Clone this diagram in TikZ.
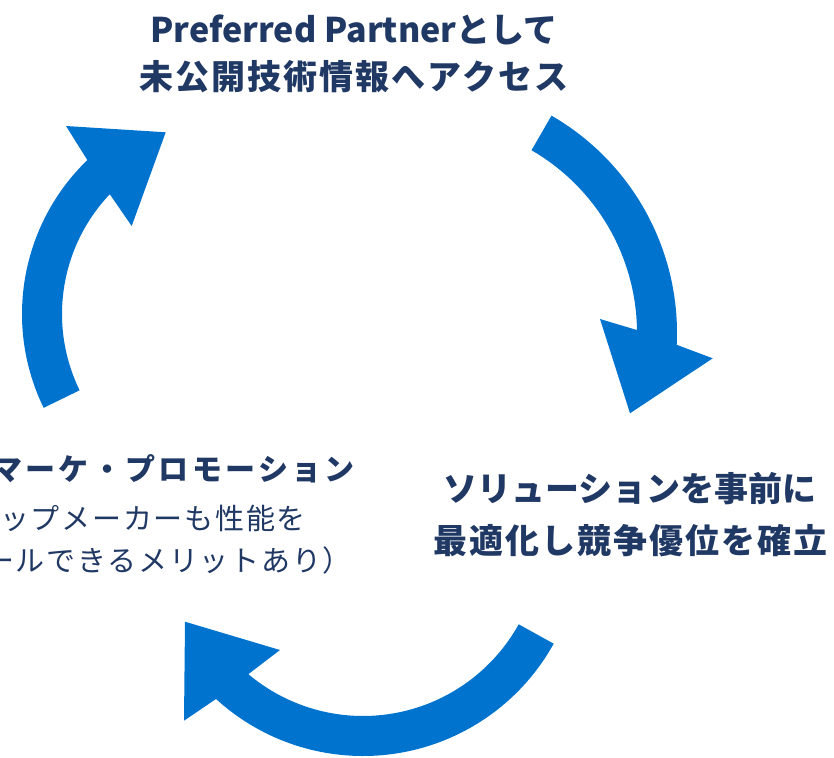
\documentclass[tikz,border=0pt]{standalone}
\usepackage{fontspec}
\usetikzlibrary{calc}
\newfontfamily\jp{Noto Sans CJK JP}
\newfontfamily\jpwide{Noto Sans CJK JP}[LetterSpace=6]
\newfontfamily\jpleft{Noto Sans CJK JP}[LetterSpace=11]
\definecolor{arrowblue}{RGB}{0,115,207}
\definecolor{navy}{RGB}{32,56,100}
\tikzset{
  cyclearrow/.style={fill=arrowblue, draw=none},
  basetext/.style={text=navy, inner sep=0pt},
  titletext/.style={basetext, font=\jpwide\bfseries\fontsize{34}{40}\selectfont},
  titlenarrow/.style={basetext, font=\jp\bfseries\fontsize{34}{40}\selectfont},
  subtext/.style={basetext, font=\jpwide\fontsize{29}{34}\selectfont},
  lefttitle/.style={basetext, font=\jpleft\bfseries\fontsize{30}{35}\selectfont}
}
\begin{document}
\begin{tikzpicture}[x=1pt,y=-1pt]
\useasboundingbox (0,0) rectangle (834,757);
\coordinate (cL) at (236,314);
\coordinate (cR) at (426,333);
\coordinate (cB) at (363,538);
% left arrow (upwards)
\fill[cyclearrow] ($(cL)+(154:214)$) arc[start angle=154,end angle=226,radius=214]
  -- (66,126) -- (165.7,132.3) -- (131.7,226)
  -- ($(cL)+(223.5:174)$) arc[start angle=223.5,end angle=154,radius=174] -- cycle;
% right arrow (downwards)
\fill[cyclearrow] ($(cR)+(-60:251)$) arc[start angle=-60,end angle=2.7,radius=251]
  -- (712.7,358.3) -- (630,413.3) -- (600,319)
  -- ($(cR)+(-0.8:211)$) arc[start angle=-0.8,end angle=-60,radius=211] -- cycle;
% bottom arrow (leftwards)
\fill[cyclearrow] ($(cB)+(29:218)$) arc[start angle=29,end angle=132.4,radius=218]
  -- (184,720.7) -- (185,621.7) -- (280,650)
  -- ($(cB)+(130.1:178)$) arc[start angle=130.1,end angle=29,radius=178] -- cycle;
% texts
\node[titlenarrow, anchor=base] (t1) at (354,43) {Preferred Partnerとして};
\node[titletext, anchor=base] (t2) at (354,90) {未公開技術情報へアクセス};
\node[titlenarrow, anchor=base west] (r1) at (443,501) {ソリューションを事前に};
\node[titletext, anchor=base west] (r2) at (433,553) {最適化し競争優位を確立};
\node[lefttitle, anchor=base east] (l1) at (355,480) {マーケ・プロモーション};
\node[subtext, anchor=base east] (l2) at (306,529) {ップメーカーも性能を};
\node[subtext, anchor=base east] (l3) at (352,571) {ールできるメリットあり）};
\end{tikzpicture}
\end{document}
